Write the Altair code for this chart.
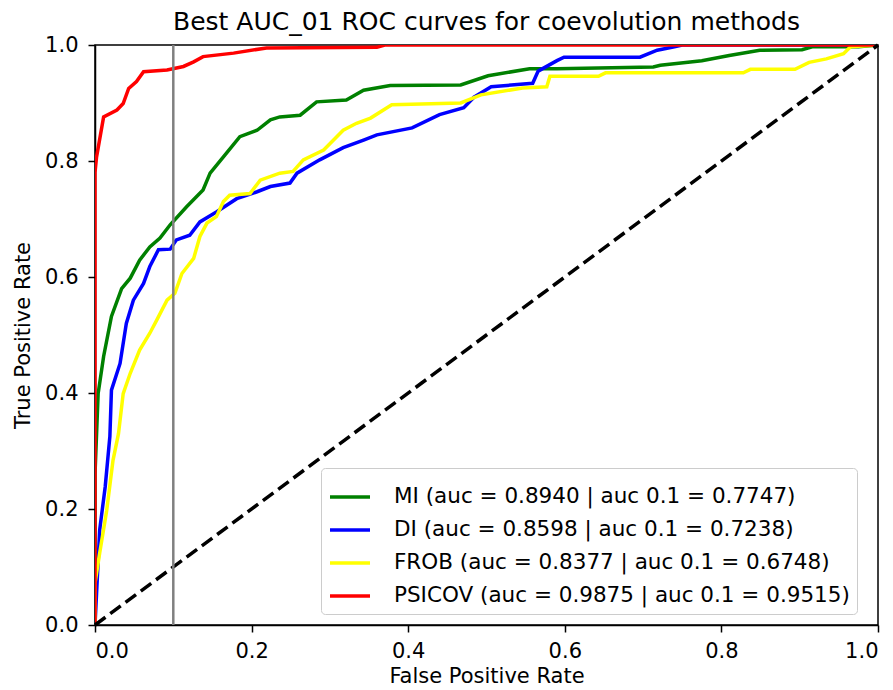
import altair as alt
import pandas as pd

# ---- data ----
labels = [
    "MI (auc = 0.8940 | auc 0.1 = 0.7747)",
    "DI (auc = 0.8598 | auc 0.1 = 0.7238)",
    "FROB (auc = 0.8377 | auc 0.1 = 0.6748)",
    "PSICOV (auc = 0.9875 | auc 0.1 = 0.9515)",
]
colors = ["#008000", "#0000ff", "#ffff00", "#ff0000"]

mi_fpr = [0, 0, 0.004, 0.011, 0.021, 0.034, 0.045, 0.057, 0.070, 0.083, 0.096, 0.117, 0.138, 0.147,
          0.164, 0.185, 0.207, 0.224, 0.236, 0.262, 0.283, 0.321, 0.343, 0.377, 0.467, 0.502, 0.555,
          0.590, 0.713, 0.722, 0.775, 0.810, 0.849, 0.903, 0.916, 0.975, 1.0]
mi_tpr = [0, 0.26, 0.399, 0.463, 0.532, 0.580, 0.598, 0.629, 0.652, 0.667, 0.690, 0.721, 0.750, 0.779,
          0.807, 0.842, 0.853, 0.871, 0.876, 0.879, 0.902, 0.905, 0.922, 0.930, 0.931, 0.947, 0.959,
          0.959, 0.962, 0.965, 0.973, 0.982, 0.991, 0.992, 0.997, 0.997, 1.0]

di_fpr = [0, 0.002, 0.006, 0.013, 0.019, 0.021, 0.032, 0.040, 0.049, 0.062, 0.070, 0.081, 0.096, 0.104,
          0.121, 0.134, 0.155, 0.181, 0.207, 0.224, 0.249, 0.258, 0.287, 0.317, 0.343, 0.360, 0.405,
          0.440, 0.471, 0.484, 0.506, 0.559, 0.566, 0.590, 0.599, 0.696, 0.718, 0.740, 0.75, 1.0]
di_tpr = [0, 0.055, 0.164, 0.238, 0.325, 0.405, 0.451, 0.520, 0.560, 0.589, 0.618, 0.647, 0.648, 0.664,
          0.672, 0.695, 0.712, 0.735, 0.747, 0.756, 0.762, 0.779, 0.802, 0.823, 0.836, 0.845, 0.857,
          0.880, 0.892, 0.910, 0.928, 0.934, 0.955, 0.973, 0.979, 0.979, 0.991, 0.997, 1.0, 1.0]

frob_fpr = [0, 0, 0.006, 0.015, 0.023, 0.030, 0.036, 0.045, 0.057, 0.070, 0.079, 0.092, 0.102, 0.111,
            0.126, 0.134, 0.143, 0.155, 0.164, 0.172, 0.198, 0.211, 0.236, 0.253, 0.266, 0.292, 0.317,
            0.334, 0.352, 0.379, 0.467, 0.493, 0.546, 0.577, 0.581, 0.643, 0.652, 0.828, 0.837, 0.894,
            0.912, 0.934, 0.956, 0.965, 1.0]
frob_tpr = [0, 0.072, 0.124, 0.198, 0.284, 0.330, 0.399, 0.434, 0.474, 0.503, 0.526, 0.560, 0.572, 0.606,
            0.632, 0.670, 0.693, 0.704, 0.730, 0.741, 0.744, 0.767, 0.779, 0.782, 0.802, 0.819, 0.853,
            0.865, 0.874, 0.897, 0.900, 0.914, 0.926, 0.928, 0.946, 0.946, 0.952, 0.952, 0.958, 0.958,
            0.970, 0.976, 0.985, 0.997, 1.0]

psicov_fpr = [0, 0, 0.002, 0.011, 0.028, 0.036, 0.043, 0.053, 0.062, 0.092, 0.113, 0.126, 0.138, 0.177,
              0.219, 0.36, 0.37, 1.0]
psicov_tpr = [0, 0.78, 0.807, 0.876, 0.888, 0.899, 0.925, 0.937, 0.954, 0.957, 0.963, 0.971, 0.980, 0.986,
              0.995, 0.996, 1.0, 1.0]

diag_x = [0.0, 1.0]
diag_y = [0.0, 1.0]
fpr_cutoff = [0.1]

# ---- build tables ----
series = [(labels[0], mi_fpr, mi_tpr), (labels[1], di_fpr, di_tpr),
          (labels[2], frob_fpr, frob_tpr), (labels[3], psicov_fpr, psicov_tpr)]
rows = []
for name, xs, ys in series:
    for i, (x, y) in enumerate(zip(xs, ys)):
        rows.append({"method": name, "fpr": x, "tpr": y, "idx": i})
df = pd.DataFrame(rows)
diag_df = pd.DataFrame({"fpr": diag_x, "tpr": diag_y})
cut_df = pd.DataFrame({"fpr": fpr_cutoff})

FONT = "DejaVu Sans"

xscale = alt.Scale(domain=[0, 1], nice=False, zero=False)
yscale = alt.Scale(domain=[0, 1], nice=False, zero=False)
xaxis = alt.Axis(title="False Positive Rate", values=[0, 0.2, 0.4, 0.6, 0.8, 1.0], format=".1f",
                 titlePadding=4, labelPadding=8)
yaxis = alt.Axis(title="True Positive Rate", values=[0, 0.2, 0.4, 0.6, 0.8, 1.0], format=".1f",
                 titlePadding=11, labelPadding=10)

legend = alt.Legend(
    title=None, orient="none", legendX=226, legendY=423,
    symbolType="stroke", symbolSize=1600, symbolStrokeWidth=3.5,
    labelFontSize=21.5, labelFont=FONT, labelColor="black", labelOffset=22, labelLimit=800,
    rowPadding=0, padding=7, strokeColor="#cccccc", fillColor="white", cornerRadius=4,
)
color = alt.Color("method:N", scale=alt.Scale(domain=labels, range=colors), legend=legend)

layers = []
for name, _, _ in series:
    layers.append(
        alt.Chart(df).transform_filter(alt.datum.method == name)
        .mark_line(strokeWidth=3.5, clip=True)
        .encode(x=alt.X("fpr:Q", scale=xscale, axis=xaxis),
                y=alt.Y("tpr:Q", scale=yscale, axis=yaxis),
                color=color, order=alt.Order("idx:Q"))
    )

diag = alt.Chart(diag_df).mark_line(color="black", strokeWidth=3.5, strokeDash=[13, 6]).encode(
    x=alt.X("fpr:Q", scale=xscale), y=alt.Y("tpr:Q", scale=yscale))
cut = alt.Chart(cut_df).mark_rule(color="#808080", strokeWidth=2.5).encode(
    x=alt.X("fpr:Q", scale=xscale))

chart = alt.layer(*layers, diag, cut).properties(
    width=783, height=580,
    autosize="none",
    padding={"left": 87, "top": 37, "right": 7, "bottom": 65},
    background="white",
    title=alt.Title("Best AUC_01 ROC curves for coevolution methods", fontSize=25, font=FONT,
                    fontWeight="normal", color="black", offset=10, dy=11),
).configure_view(stroke="black", strokeWidth=1.5).configure_axis(
    grid=False, domainColor="black", domainWidth=1.5, tickColor="black", tickWidth=1.5, tickSize=7,
    labelFont=FONT, labelFontSize=21, labelColor="black",
    titleFont=FONT, titleFontSize=21, titleColor="black", titleFontWeight="normal",
)

chart.save("out.html", embed_options={"renderer": "svg", "actions": False})
